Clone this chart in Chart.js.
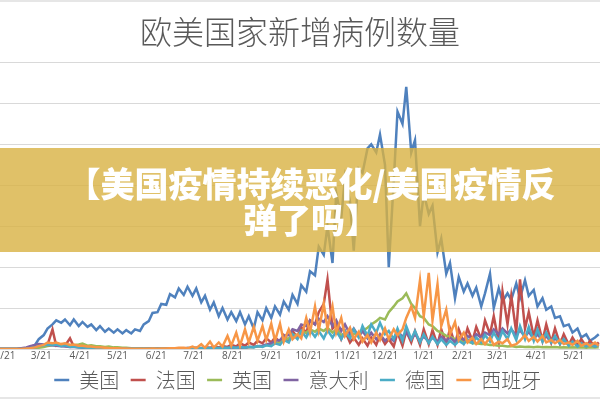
<!DOCTYPE html>
<html>
<head>
<meta charset="utf-8">
<script src="https://cdn.jsdelivr.net/npm/chart.js@4.4.1/dist/chart.umd.min.js"></script>
<style>
  html, body { margin: 0; padding: 0; background: #fff; width: 600px; height: 400px; overflow: hidden; position: relative; }
  #wrap { position: absolute; left: -40px; top: 0; width: 680px; height: 400px; }
  .rule { position: absolute; left: 0; width: 600px; height: 2px; background: #e6e6e6; }
  #banner {
    position: absolute; left: 0; top: 148px; width: 600px; height: 104px;
    box-sizing: border-box; padding: 17px 0 0 22px;
    background: rgba(216, 178, 66, 0.8);
    color: #fff; text-align: center;
    font: 900 34px/36px "Noto Sans CJK SC", sans-serif;
  }
</style>
</head>
<body>
<div id="wrap"><canvas id="canvas1"></canvas></div>
<div class="rule" style="top:0"></div>
<div class="rule" style="top:397px"></div>
<div id="banner">【美国疫情持续恶化/美国疫情反<br>弹了吗】</div>
<script>
const ctx = document.getElementById('canvas1').getContext('2d')

// one sample about every 3.5 days (Mon / Thu), day 0 = 2020-02-21
const sampleDays = Array.from({length: 138}, (_, i) => -4 + Math.floor(i * 3.5))
const tickDays = [0, 29, 60, 90, 121, 151, 182, 213, 243, 274, 304, 335, 366, 394, 425, 455]
const tickLabels = ['2/21', '3/21', '4/21', '5/21', '6/21', '7/21', '8/21', '9/21', '10/21', '11/21', '12/21', '1/21', '2/21', '3/21', '4/21', '5/21']

const countries = ['美国', '法国', '英国', '意大利', '德国', '西班牙']
const colors = ['#4f81bd', '#c0504d', '#9bbb59', '#8064a2', '#4bacc6', '#f79646']

// daily new cases, thousands
const usa = [
  0.2, 0.2, 0.3, 0.3, 0.4, 0.5, 1, 2, 5, 12,
  17, 25, 30, 35, 32, 36, 29, 36, 28, 33,
  27, 30, 23, 28, 21, 25, 20, 24, 19, 23,
  19, 24, 22, 30, 34, 44, 45, 55, 54, 67,
  63, 74, 66, 76, 65, 74, 57, 65, 48, 57,
  40, 50, 36, 45, 34, 45, 30, 40, 25, 45,
  35, 50, 38, 52, 42, 58, 48, 66, 55, 78,
  70, 95, 90, 125, 115, 150, 105, 190, 160, 210,
  180, 120, 220, 215, 245, 250, 240, 262, 225, 100,
  205, 290, 275, 320, 240, 255, 150, 190, 165, 175,
  118, 135, 92, 105, 62, 88, 70, 80, 65, 75,
  52, 68, 92, 50, 74, 58, 68, 60, 80, 62,
  84, 65, 72, 52, 62, 48, 52, 38, 40, 28,
  30, 20, 25, 14, 18, 10, 14, 18
]
const france = [
  0, 0, 0, 0, 0.1, 0.2, 0.4, 0.8, 1.5, 3,
  4, 5, 24, 4, 5, 4, 13, 3, 2.5, 2,
  1.5, 1, 1, 0.8, 0.6, 0.5, 0.4, 0.5, 0.4, 0.5,
  0.4, 0.5, 0.5, 0.6, 0.5, 0.7, 0.6, 0.8, 0.7, 0.9,
  0.8, 1, 0.9, 1.2, 1, 1.5, 1.2, 2, 1.5, 2.5,
  2, 3.5, 2.5, 5, 3, 7, 4, 8, 5, 10,
  7, 13, 8, 14, 9, 17, 10, 22, 14, 27,
  20, 35, 30, 45, 55, 85, 25, 30, 12, 22,
  8, 14, 5, 13, 4, 14, 5, 17, 6, 12,
  3, 20, 4, 22, 8, 22, 5, 24, 6, 23,
  5, 24, 6, 25, 6, 24, 8, 25, 10, 27,
  12, 35, 18, 40, 8, 70, 30, 65, 20, 85,
  25, 45, 15, 35, 10, 30, 8, 25, 6, 18,
  5, 14, 4, 12, 3, 10, 3, 8
]
const uk = [
  0, 0, 0, 0, 0, 0, 0.1, 0.3, 0.7, 1.5,
  2.5, 3.5, 4.5, 4.5, 5, 4.5, 5, 4.5, 5.5, 6.5,
  4, 4.5, 3.5, 3.5, 2.5, 3, 2, 2, 1.5, 1.5,
  1, 1, 0.8, 0.7, 0.7, 0.6, 0.6, 0.6, 0.6, 0.7,
  0.7, 0.8, 0.8, 0.9, 0.9, 1, 1, 1, 1, 1.2,
  1.1, 1.3, 1.2, 1.4, 1.3, 1.5, 1.7, 2.2, 2.5, 3,
  3.5, 4.5, 5, 7, 8, 11, 13, 17, 17, 21,
  20, 24, 21, 25, 22, 26, 20, 24, 17, 19,
  15, 18, 19, 22, 26, 30, 34, 38, 36, 45,
  52, 58, 62, 68, 55, 50, 40, 38, 30, 28,
  22, 20, 16, 15, 12, 11, 9, 9, 7, 7,
  6, 6, 5, 5, 4, 4, 3, 3.5, 2.5, 3,
  2.5, 2.8, 2.2, 2.6, 2, 2.4, 2, 2.4, 1.8, 2.2,
  1.8, 2.1, 1.8, 2, 1.6, 2, 1.8, 2.2
]
const italy = [
  0, 0, 0, 0, 0.3, 1, 2, 3.5, 5, 6,
  5.5, 5, 4.5, 4, 3.5, 3, 2.5, 2.5, 2, 1.5,
  1.2, 1, 0.8, 0.6, 0.5, 0.4, 0.3, 0.3, 0.3, 0.2,
  0.2, 0.2, 0.2, 0.2, 0.2, 0.2, 0.2, 0.3, 0.3, 0.3,
  0.3, 0.4, 0.4, 0.5, 0.5, 0.6, 0.8, 1, 1.2, 1.3,
  1.4, 1.6, 1.5, 1.8, 1.5, 2, 1.6, 2.5, 2.5, 3.5,
  4, 5.5, 7, 10, 11, 16, 17, 24, 22, 30,
  28, 35, 30, 37, 33, 40, 28, 35, 22, 30,
  18, 25, 15, 22, 13, 20, 12, 18, 10, 14,
  10, 22, 15, 20, 12, 18, 10, 15, 9, 14,
  9, 15, 10, 14, 9, 15, 11, 16, 12, 18,
  14, 20, 17, 24, 18, 25, 19, 24, 17, 23,
  15, 21, 12, 18, 10, 16, 8, 13, 7, 11,
  5, 9, 4, 7, 3.5, 6, 3, 5
]
const germany = [
  0, 0, 0, 0, 0, 0.1, 0.2, 0.8, 2, 3.5,
  4.5, 5.5, 5, 5.5, 3.5, 4.5, 2.5, 3, 1.8, 2,
  1.2, 1.3, 0.7, 1, 0.5, 0.8, 0.4, 0.6, 0.3, 0.5,
  0.3, 0.5, 0.3, 0.5, 0.3, 0.5, 0.4, 0.6, 0.4, 0.7,
  0.5, 0.9, 0.6, 1.2, 0.8, 1.4, 0.9, 1.5, 1, 1.6,
  1, 1.8, 1.2, 2, 1.4, 2.3, 1.6, 2.6, 2, 3.5,
  2.5, 4.5, 3.5, 7, 5, 11, 8, 18, 12, 22,
  14, 23, 15, 22, 13, 23, 14, 22, 12, 22,
  13, 24, 14, 28, 16, 30, 20, 32, 18, 22,
  12, 25, 10, 28, 12, 22, 8, 18, 7, 15,
  6, 12, 5, 10, 5, 10, 6, 12, 7, 14,
  8, 17, 9, 20, 10, 22, 12, 25, 11, 28,
  12, 27, 10, 24, 9, 20, 8, 16, 6, 12,
  4, 9, 3, 7, 3, 6, 3, 5
]
const spain = [
  0, 0, 0, 0, 0, 0.1, 0.5, 1, 2, 3.5,
  5, 8, 7, 8, 6, 7, 5, 5.5, 4, 4,
  3, 3, 2, 2, 1.5, 1.2, 1, 0.8, 0.6, 0.5,
  0.4, 0.4, 0.3, 0.4, 0.3, 0.5, 0.4, 0.7, 0.5, 1,
  0.8, 1.5, 1.5, 0.6, 3, 1, 6, 1.5, 9, 1.8,
  8, 3, 16, 4, 20, 4, 24, 8, 27, 10,
  28, 11, 31, 10, 31, 9, 24, 12, 18, 13,
  38, 20, 52, 23, 55, 25, 52, 20, 38, 16,
  26, 12, 21, 9, 17, 8, 20, 11, 25, 12,
  24, 17, 24, 38, 52, 38, 84, 40, 93, 35,
  79, 28, 48, 18, 33, 11, 20, 8, 14, 6,
  12, 6, 14, 5, 9, 7, 12, 4, 6, 10,
  17, 10, 15, 9, 16, 8, 11, 7, 11, 6,
  8, 5, 10, 4, 7, 4, 8, 4
]

const series = [usa, france, uk, italy, germany, spain]
const cjk = '"Noto Sans CJK SC", sans-serif'

const datasets = series.map((values, k) => ({
  label: countries[k],
  data: values.map((v, i) => ({x: sampleDays[i], y: v})),
  borderColor: colors[k],
  backgroundColor: colors[k],
  borderWidth: 2.5,
  pointRadius: 0,
  tension: 0,
  // later series are painted over earlier ones, like the original
  order: series.length - k
}))

const myChart = new Chart(ctx, {
  type: 'line',
  data: { datasets },
  options: {
    responsive: true,
    maintainAspectRatio: false,
    animation: false,
    layout: { padding: { left: 40, right: 40, top: 0, bottom: 0 } },
    plugins: {
      title: {
        display: true,
        text: '欧美国家新增病例数量',
        color: '#595959',
        font: { family: cjk, size: 32, weight: 300, lineHeight: 1.2 },
        padding: { top: 13, bottom: 11 }
      },
      legend: {
        position: 'bottom',
        reverse: true,
        labels: {
          usePointStyle: true,
          pointStyle: 'line',
          pointStyleWidth: 15,
          color: '#595959',
          font: { family: cjk, size: 20, weight: 300 },
          padding: 7,
          // a little extra room after each name, as in the original legend
          generateLabels: chart => Chart.defaults.plugins.legend.labels.generateLabels(chart)
            .map(item => ({ ...item, text: item.text + ' ' }))
        }
      },
      tooltip: { enabled: false }
    },
    scales: {
      x: {
        type: 'linear',
        min: -4,
        max: 476,
        grid: { display: false, drawTicks: false },
        border: { display: false },
        afterBuildTicks: axis => { axis.ticks = tickDays.map(v => ({ value: v })) },
        ticks: {
          autoSkip: false,
          maxRotation: 0,
          padding: 2,
          color: '#595959',
          font: { family: '"Open Sans", sans-serif', size: 10, lineHeight: 1 },
          callback: (value, index) => tickLabels[index]
        }
      },
      y: {
        min: 0,
        max: 350,
        ticks: { display: false, stepSize: 50 },
        grid: { color: '#d9d9d9', drawTicks: false },
        border: { display: false }
      }
    }
  }
})
</script>
</body>
</html>
